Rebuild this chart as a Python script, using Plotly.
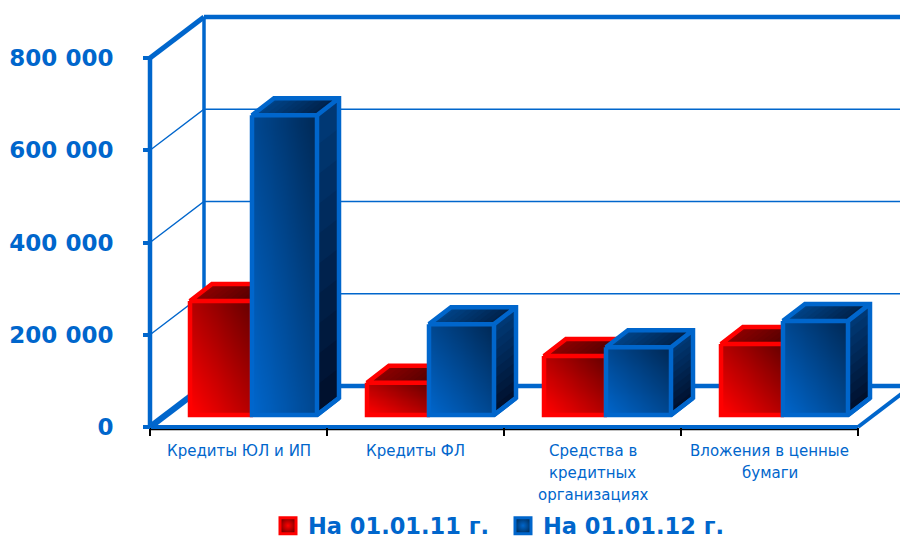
import plotly.graph_objects as go

# ---- data ----
categories = [["Кредиты ЮЛ и ИП"], ["Кредиты ФЛ"],
              ["Средства в", "кредитных", "организациях"],
              ["Вложения в ценные", "бумаги"]]
series_names = ["На 01.01.11 г.", "На 01.01.12 г."]
values_2011 = [247000, 70000, 128000, 154000]
values_2012 = [650000, 197000, 147000, 204000]
y_ticks = [0, 200000, 400000, 600000, 800000]
y_tick_labels = ["0", "200 000", "400 000", "600 000", "800 000"]

# ---- style / geometry ----
BLUE = "#0066cc"
RED = "#ff0000"
W, H = 900, 541
X0, X4, Y0, Y800 = 150.0, 858.0, 427.0, 58.0
LEFT_PAD, BOTTOM_PAD = 15.0, 12.0
TOP_PX = 10.0
PX_X = 4 / (X4 - X0)
PX_Y = 800000 / (Y0 - Y800)
XRANGE = [-LEFT_PAD * PX_X, (W - X0) * PX_X]
YRANGE = [-BOTTOM_PAD * PX_Y, (Y0 - TOP_PX) * PX_Y]
WALL_DX, WALL_DY = 54 * PX_X, 41 * PX_Y
BAR_DX, BAR_DY = 22 * PX_X, 17 * PX_Y
BASE = 12 * PX_Y
RED_L, MID, BLUE_R = 40 / 177, 102 / 177, 167 / 177


def hex2rgb(c):
    return tuple(int(c[i:i + 2], 16) for i in (1, 3, 5))


def mix(a, b, t):
    a, b = hex2rgb(a), hex2rgb(b)
    return "rgb(%d,%d,%d)" % tuple(round(a[i] + (b[i] - a[i]) * t) for i in range(3))


fig = go.Figure()


def line(xs, ys, width, color=BLUE):
    fig.add_trace(go.Scatter(x=xs, y=ys, mode="lines", line=dict(color=color, width=width),
                             showlegend=False, hoverinfo="skip"))


# walls and floor
xmax = XRANGE[1]
for v in y_ticks[1:-1]:
    line([0, WALL_DX, xmax], [v, v + WALL_DY, v + WALL_DY], 1.4)
line([WALL_DX, WALL_DX], [WALL_DY, 800000 + WALL_DY], 3.5)
line([WALL_DX, xmax], [800000 + WALL_DY] * 2, 4.5)
line([0, WALL_DX], [800000, 800000 + WALL_DY], 5)
line([0, WALL_DX], [0, WALL_DY], 6)
line([WALL_DX, xmax], [WALL_DY, WALL_DY], 4.5)
line([4, 4 + WALL_DX], [0, WALL_DY], 4)
line([0, 4], [-2.5 * PX_Y] * 2, 1.5, "black")
line([0, 4], [0, 0], 4)
line([0, 0], [0, 800000], 4.5)


def bar(x0, x1, v, edge, front0, front1, top0, top1, side0, side1, axes):
    y0, y1 = BASE, BASE + v
    n = 14
    xs = [x0 + (x1 - x0) * i / n for i in range(n + 1)]
    ys = [y0 + (y1 - y0) * i / n for i in range(n + 1)]
    z = [[(i + j) / (2 * (n - 1)) for i in range(n)] for j in range(n)]
    fig.add_trace(go.Heatmap(x=xs, y=ys, z=z, zmin=0, zmax=1, zsmooth="best",
                             colorscale=[[0, front0], [1, front1]], showscale=False,
                             hoverinfo="skip", xaxis=axes[0], yaxis=axes[1]))
    strips = 10
    # each strip runs to the far end of its face and is overpainted by the next one
    for i in range(strips):
        a = x0 + (x1 - x0) * i / strips
        c = mix(top0, top1, (i + .5) / strips)
        fig.add_trace(go.Scatter(x=[a, x1, x1 + BAR_DX, a + BAR_DX, a], y=[y1, y1, y1 + BAR_DY, y1 + BAR_DY, y1],
                                 mode="none", fill="toself", fillcolor=c,
                                 showlegend=False, hoverinfo="skip", xaxis=axes[0], yaxis=axes[1]))
    for i in range(strips):
        a = y0 + (y1 - y0) * i / strips
        c = mix(side0, side1, (i + .5) / strips)
        fig.add_trace(go.Scatter(x=[x1, x1, x1 + BAR_DX, x1 + BAR_DX, x1], y=[a, y1, y1 + BAR_DY, a + BAR_DY, a],
                                 mode="none", fill="toself", fillcolor=c,
                                 showlegend=False, hoverinfo="skip", xaxis=axes[0], yaxis=axes[1]))
    ex = [x0, x0, x1, x1 + BAR_DX, x1 + BAR_DX, x0 + BAR_DX, x0, x1, x1 + BAR_DX, None, x1, x1, None, x1, x1 + BAR_DX]
    ey = [y1, y0, y0, y0 + BAR_DY, y1 + BAR_DY, y1 + BAR_DY, y1, y1, y1 + BAR_DY, None, y1, y0, None, y0, y0 + BAR_DY]
    fig.add_trace(go.Scatter(x=ex, y=ey, mode="lines", line=dict(color=edge, width=4.5),
                             showlegend=False, hoverinfo="skip", xaxis=axes[0], yaxis=axes[1]))


for i, (r, b) in enumerate(zip(values_2011, values_2012)):
    bar(i + RED_L, i + MID, r, RED, "#ff0000", "#6a0000", "#8e0000", "#520000", "#300000", "#600000", ("x2", "y2"))
    bar(i + MID, i + BLUE_R, b, BLUE, "#0064c8", "#002a58", "#00458a", "#002048", "#000f2a", "#003a78", ("x3", "y3"))

# legend entries
for name, edge, center in zip(series_names, (RED, BLUE), ("#800000", "#003366")):
    fig.add_trace(go.Scatter(x=[None], y=[None], mode="markers", name=name,
                             marker=dict(symbol="square", size=16, color=center,
                                         gradient=dict(type="radial", color=edge),
                                         line=dict(color=edge, width=3))))

# category labels, one annotation per line
ann = []
for i, lines in enumerate(categories):
    for j, txt in enumerate(lines):
        ann.append(dict(x=i + .5, xref="x", y=0, yref="paper", yshift=-(1 + 22 * j), yanchor="top",
                        text=txt, showarrow=False, font=dict(family="DejaVu Sans", size=15, color=BLUE)))

margin_l = X0 - LEFT_PAD
margin_b = H - Y0 - BOTTOM_PAD
plot_w = W - margin_l
plot_height = H - TOP_PX - margin_b
fig.update_layout(
    width=W, height=H, margin=dict(l=margin_l, r=0, t=TOP_PX, b=margin_b, pad=0),
    paper_bgcolor="white", plot_bgcolor="white", annotations=ann,
    showlegend=True,
    legend=dict(orientation="h", xref="container", yref="container", x=268 / W, y=1 - 526 / H,
                xanchor="left", yanchor="middle",
                font=dict(family="DejaVu Sans", size=22.5, color=BLUE, weight="bold"),
                itemsizing="trace", entrywidth=190, entrywidthmode="pixels", traceorder="normal",
                bgcolor="rgba(0,0,0,0)"),
    xaxis=dict(range=XRANGE, tickvals=[], showgrid=False, zeroline=False, showline=False,
               anchor="free", position=BOTTOM_PAD / plot_height,
               minor=dict(tickvals=[0, 1, 2, 3, 4], ticks="outside", ticklen=8, tickwidth=1.5,
                          tickcolor="black", showgrid=False)),
    yaxis=dict(range=YRANGE, tickvals=y_ticks, ticktext=y_tick_labels, showgrid=False, zeroline=False,
               showline=False, ticks="outside", ticklen=7, tickwidth=4, tickcolor=BLUE,
               anchor="free", position=LEFT_PAD / plot_w, ticklabelstandoff=25,
               tickfont=dict(family="DejaVu Sans", size=23, color=BLUE, weight="bold")),
    xaxis2=dict(range=XRANGE, overlaying="x", visible=False),
    yaxis2=dict(range=YRANGE, overlaying="y", visible=False),
    xaxis3=dict(range=XRANGE, overlaying="x", visible=False),
    yaxis3=dict(range=YRANGE, overlaying="y", visible=False),
)
fig.write_html("out.html", config=dict(displayModeBar=False),
               post_script="document.body.style.margin='0';")
